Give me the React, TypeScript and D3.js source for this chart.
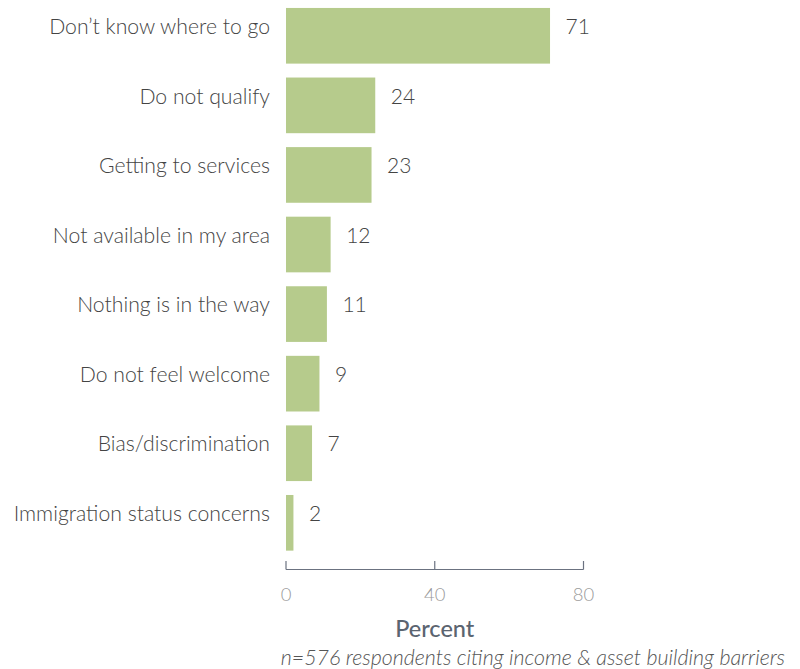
import React from "react";
import * as d3 from "d3";

const categories = [
  "Don’t know where to go",
  "Do not qualify",
  "Getting to services",
  "Not available in my area",
  "Nothing is in the way",
  "Do not feel welcome",
  "Bias/discrimination",
  "Immigration status concerns",
];
const values = [71, 24, 23, 12, 11, 9, 7, 2];
const tickValues = [0, 40, 80];
const axisTitle = "Percent";
const footnote = "n=576 respondents citing income & asset building barriers";

const W = 800;
const H = 669;

export default function App() {
  const x = d3.scaleLinear().domain([0, 80]).range([286, 583.5]);
  const y = d3
    .scaleBand<string>()
    .domain(categories)
    .range([1, 557.6])
    .paddingInner(0.2)
    .paddingOuter(0.1);
  const axisY = 569.5;
  const font = "Lato, 'Noto Sans', sans-serif";
  return (
    <svg
      width={W}
      height={H}
      style={{ position: "absolute", left: 0, top: 0, background: "#fff" }}
      fontFamily={font}
    >
      {categories.map((c, i) => {
        const by = y(c)!;
        const bh = y.bandwidth();
        const ty = by + bh / 2 - 1.8;
        return (
          <g key={c}>
            <rect x={x(0)} y={by} width={x(values[i]) - x(0)} height={bh} fill="#b6cb8c" />
            <text x={270} y={ty} textAnchor="end" fontSize={21.2} fontWeight={300} fill="#444">
              {c}
            </text>
            <text x={x(values[i]) + 15.5} y={ty} fontSize={21} fontWeight={300} fill="#444">
              {values[i]}
            </text>
          </g>
        );
      })}
      <line x1={x(0)} x2={x(80)} y1={axisY} y2={axisY} stroke="#6b7280" strokeWidth={1.2} />
      {tickValues.map((t) => (
        <g key={t}>
          <line x1={x(t)} x2={x(t)} y1={axisY - 8.5} y2={axisY} stroke="#6b7280" strokeWidth={1.2} />
          <text x={x(t)} y={601} textAnchor="middle" fontSize={18.5} fontWeight={300} fill="#9a9a9a">
            {t}
          </text>
        </g>
      ))}
      <text x={(x(0) + x(80)) / 2} y={636.5} textAnchor="middle" fontSize={23.5} fontWeight={500} fill="#5b6470">
        {axisTitle}
      </text>
      <text x={785} y={665} textAnchor="end" fontSize={21.4} fontStyle="italic" fontWeight={300} fill="#555">
        {footnote}
      </text>
    </svg>
  );
}
